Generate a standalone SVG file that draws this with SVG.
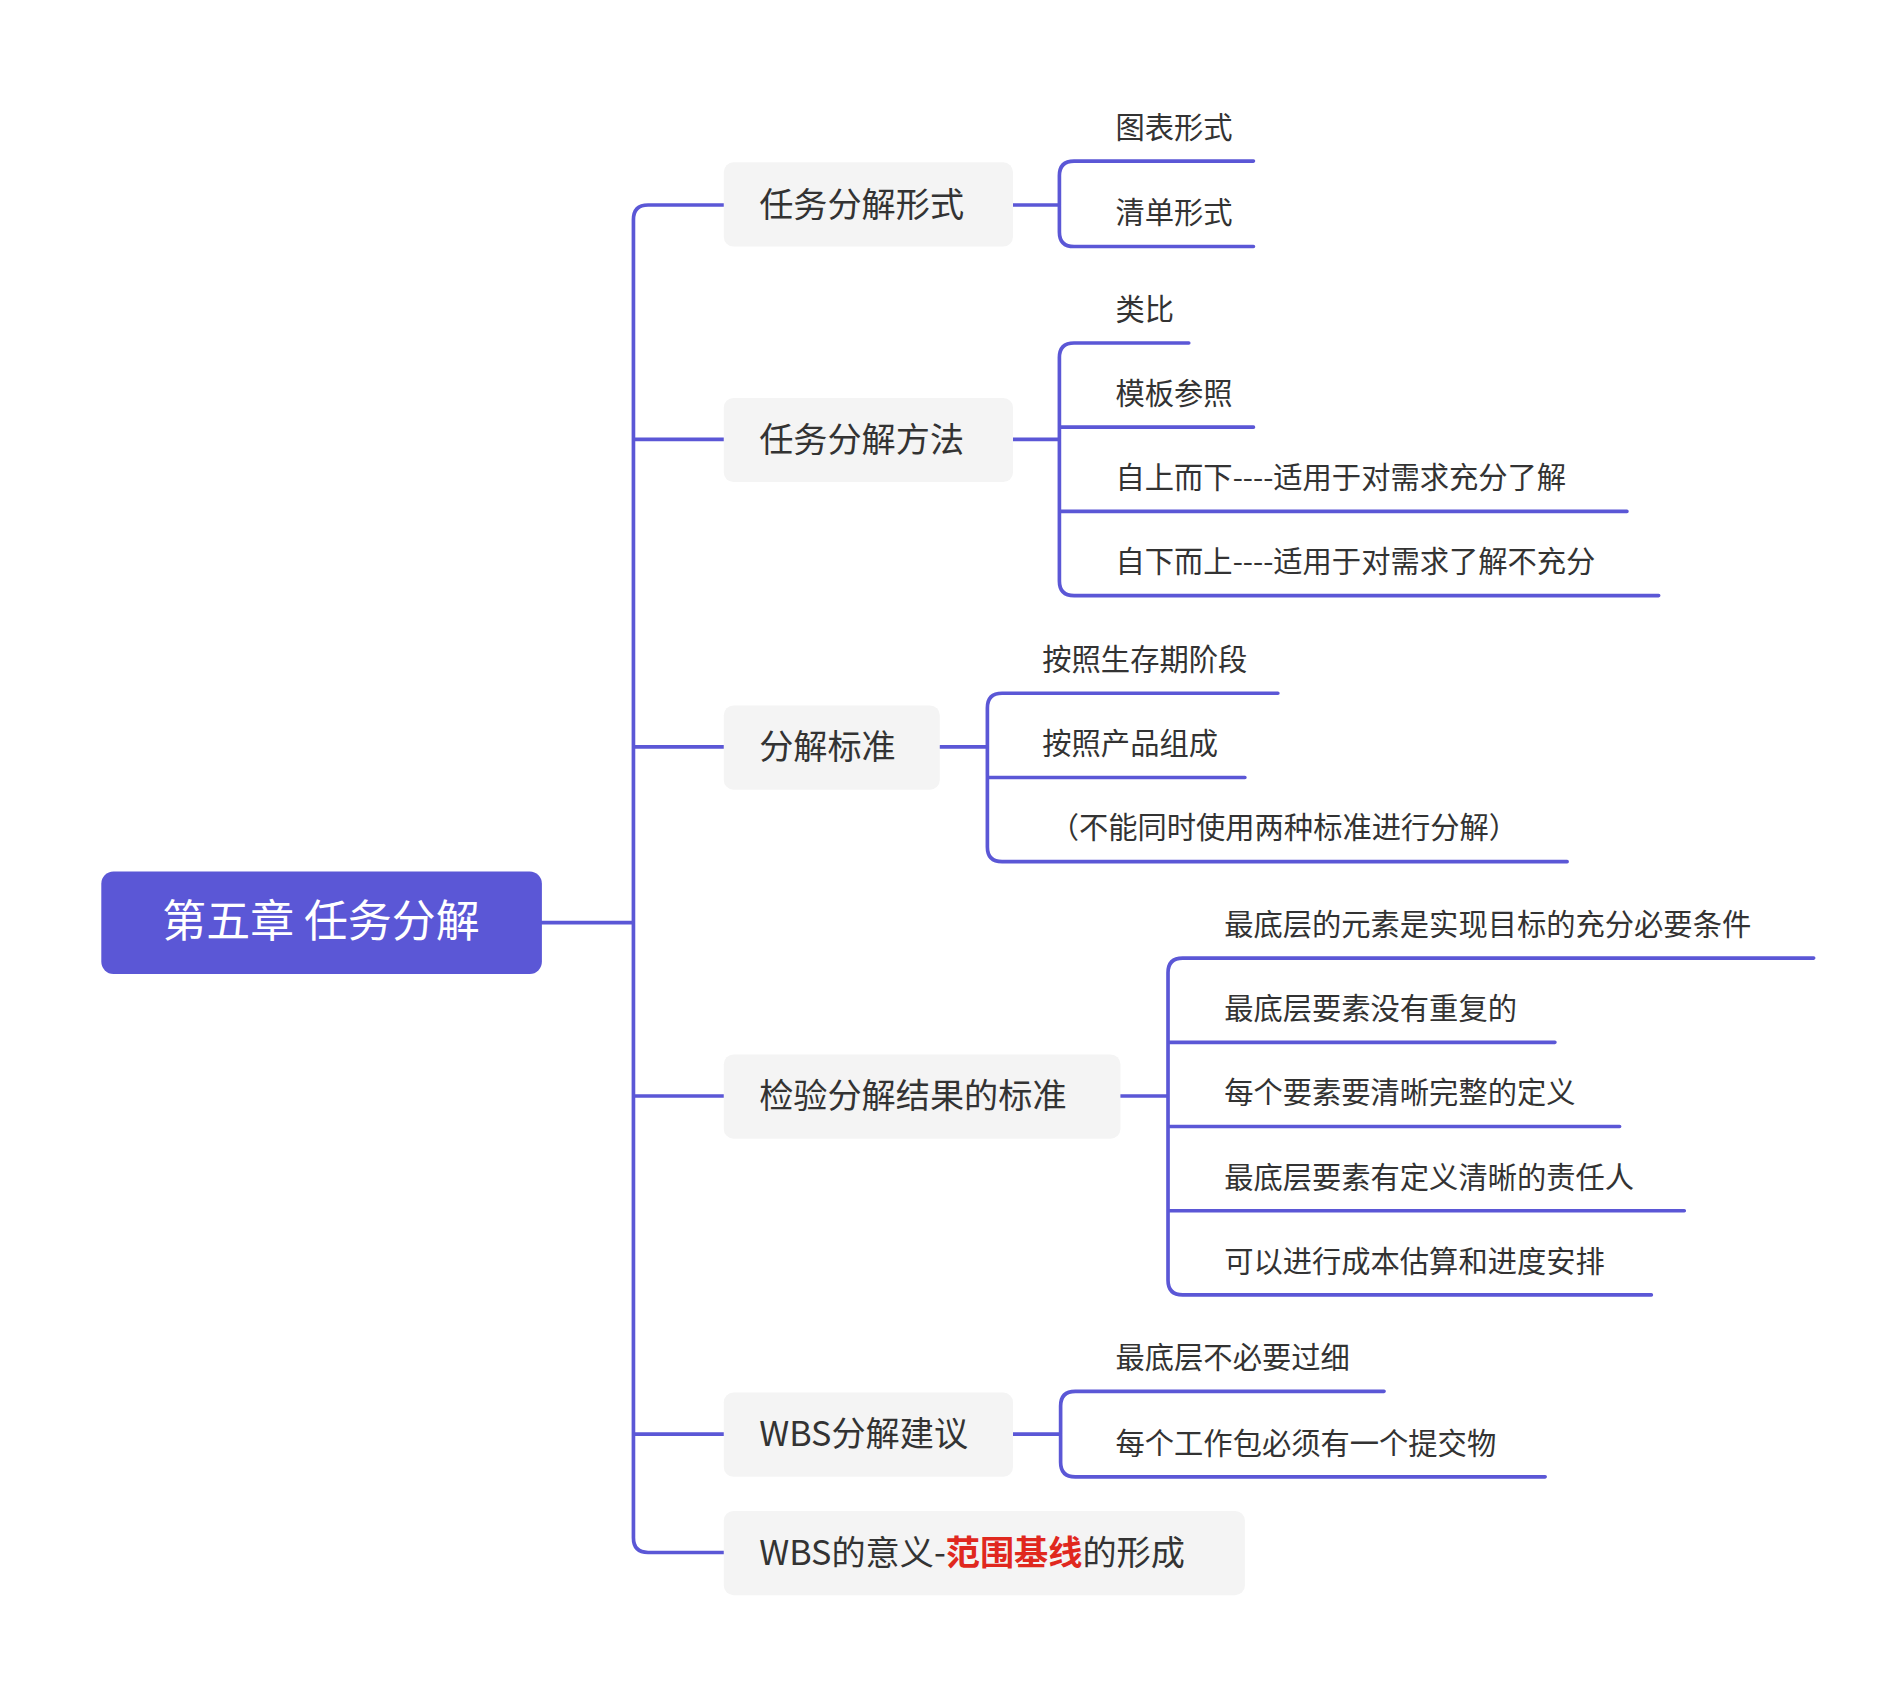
<svg xmlns="http://www.w3.org/2000/svg" width="1904" height="1688" viewBox="0 0 1904 1688">
<style>
.c{fill:none;stroke:#5b57d6;stroke-width:3;stroke-linecap:round}
.n{fill:#f4f4f4}
.t1{font-family:"Noto Sans CJK SC","Noto Sans",sans-serif;font-size:28px;fill:#333}
.t2{font-family:"Noto Sans CJK SC","Noto Sans",sans-serif;font-size:24px;fill:#333}
</style>
<rect width="1904" height="1688" fill="#fff"/>
<g transform="scale(1.2205)">
<g id="connectors">
<path class="c" d="M444,756H519M531,168Q519,168 519,180V1260Q519,1272 531,1272H593M531,168H593M519,360H593M519,612H593M519,898H593M519,1175H593"/>
<path class="c" d="M830,168H868M880,132Q868,132 868,144V190Q868,202 880,202H1027M880,132H1027"/>
<path class="c" d="M830,360H868M880,281Q868,281 868,293V476Q868,488 880,488H1359M880,281H974M868,350H1027M868,419H1333"/>
<path class="c" d="M770,612H809M821,568Q809,568 809,580V694Q809,706 821,706H1284M821,568H1047M809,637H1020"/>
<path class="c" d="M918,898H957M969,785Q957,785 957,797V1049Q957,1061 969,1061H1353M969,785H1486M957,854H1274M957,923H1327M957,992H1380"/>
<path class="c" d="M830,1175H869M881,1140Q869,1140 869,1152V1198Q869,1210 881,1210H1266M881,1140H1134"/>
</g>
<g id="root"><rect x="83" y="714" width="361" height="84" rx="10" fill="#5b57d6"/><text x="263" y="768" text-anchor="middle" font-family="Noto Sans CJK SC,sans-serif" font-size="36" fill="#fff">第五章 任务分解</text></g>
<g id="n1"><rect class="n" x="593" y="133" width="237" height="69" rx="8"/><text class="t1" x="622" y="178">任务分解形式</text></g>
<g id="n2"><rect class="n" x="593" y="326" width="237" height="69" rx="8"/><text class="t1" x="622" y="370">任务分解方法</text></g>
<g id="n3"><rect class="n" x="593" y="578" width="177" height="69" rx="8"/><text class="t1" x="622" y="622">分解标准</text></g>
<g id="n4"><rect class="n" x="593" y="864" width="325" height="69" rx="8"/><text class="t1" x="622" y="908">检验分解结果的标准</text></g>
<g id="n5"><rect class="n" x="593" y="1141" width="237" height="69" rx="8"/><text class="t1" x="622" y="1185">WBS分解建议</text></g>
<g id="n6"><rect class="n" x="593" y="1238" width="427" height="69" rx="8"/><text class="t1" x="622" y="1282">WBS的意义-<tspan fill="#e0281e" font-weight="bold">范围基线</tspan>的形成</text></g>
<g id="leaves">
<text class="t2" x="914" y="113">图表形式</text>
<text class="t2" x="914" y="183">清单形式</text>
<text class="t2" x="914" y="262">类比</text>
<text class="t2" x="914" y="331">模板参照</text>
<text class="t2" x="914" y="400">自上而下----适用于对需求充分了解</text>
<text class="t2" x="914" y="469">自下而上----适用于对需求了解不充分</text>
<text class="t2" x="854" y="549">按照生存期阶段</text>
<text class="t2" x="854" y="618">按照产品组成</text>
<text class="t2" x="860" y="687">（不能同时使用两种标准进行分解）</text>
<text class="t2" x="1003" y="766">最底层的元素是实现目标的充分必要条件</text>
<text class="t2" x="1003" y="835">最底层要素没有重复的</text>
<text class="t2" x="1003" y="904">每个要素要清晰完整的定义</text>
<text class="t2" x="1003" y="973">最底层要素有定义清晰的责任人</text>
<text class="t2" x="1003" y="1042">可以进行成本估算和进度安排</text>
<text class="t2" x="914" y="1121">最底层不必要过细</text>
<text class="t2" x="914" y="1191">每个工作包必须有一个提交物</text>
</g>
</g>
</svg>
